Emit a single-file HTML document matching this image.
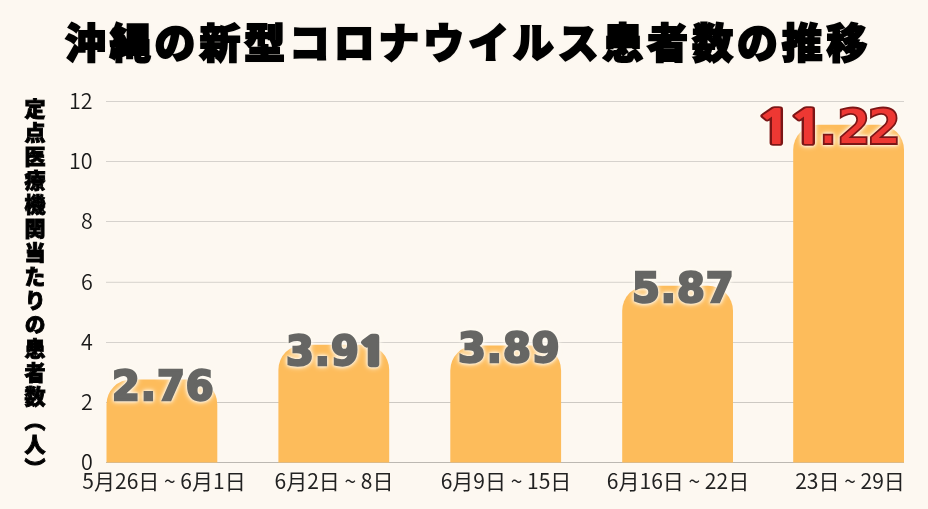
<!DOCTYPE html>
<html lang="ja">
<head>
<meta charset="utf-8">
<style>
html,body{margin:0;padding:0;}
body{width:928px;height:509px;overflow:hidden;background:#fdf8f1;position:relative;font-family:"Liberation Sans","Noto Sans CJK JP",sans-serif;}
.title{will-change:transform;position:absolute;left:64.5px;top:11px;white-space:nowrap;font:900 40.8px/60px "Noto Sans CJK JP",sans-serif;letter-spacing:4px;color:#000;-webkit-text-stroke:1.9px #000;text-shadow:0 0 1.5px rgba(0,0,0,.3),0 0 3px rgba(0,0,0,.15);}
.ylab{will-change:transform;position:absolute;left:21.5px;top:97.5px;writing-mode:vertical-rl;font:900 21px/26px "Noto Sans CJK JP",sans-serif;letter-spacing:2.95px;color:#000;-webkit-text-stroke:.9px #000;white-space:nowrap;}
.tick{will-change:transform;position:absolute;right:835px;font:350 21.5px/22px "Noto Sans CJK JP",sans-serif;color:#1a1a1a;text-align:right;}
.xl{will-change:transform;position:absolute;top:467px;width:200px;text-align:center;font:21px/26px "Noto Sans CJK JP",sans-serif;color:#222;white-space:nowrap;}
.val{will-change:transform;position:absolute;white-space:nowrap;font:bold 40px/50px "DejaVu Sans",sans-serif;letter-spacing:1px;color:#666664;-webkit-text-stroke:2.4px #666664;filter:drop-shadow(0 0 1.5px #fffbf2) drop-shadow(0 0 2.5px #fffbf2);}
svg{position:absolute;left:0;top:0;}
.one{display:inline-block;transform:scaleX(1.35);transform-origin:50% 50%;margin:0 3px;font:800 46.5px/50px "NanumGothic",sans-serif;letter-spacing:0;paint-order:stroke fill;}
.one.r{-webkit-text-stroke:3.6px #7c1616;}
.one.g{font-size:38px;-webkit-text-stroke:4.4px #666664;transform:scaleX(1.2);}
</style>
</head>
<body>
<svg width="928" height="509" viewBox="0 0 928 509">
  <g stroke="#d6d2cd" stroke-width="1">
    <line x1="106" y1="101.5" x2="904" y2="101.5"/>
    <line x1="106" y1="161.5" x2="904" y2="161.5"/>
    <line x1="106" y1="221.5" x2="904" y2="221.5"/>
    <line x1="106" y1="282.3" x2="904" y2="282.3"/>
    <line x1="106" y1="342.5" x2="904" y2="342.5"/>
    <line x1="106" y1="402.5" x2="904" y2="402.5" stroke="#cdc9c3"/>
    <line x1="106" y1="462.5" x2="904" y2="462.5" stroke="#bcb8b2"/>
  </g>
  <g fill="#fdbc5b">
    <path d="M106.5 462.5 V404.4 a25 25 0 0 1 25 -25 H192.3 a25 25 0 0 1 25 25 V462.5 Z"/>
    <path d="M278.4 462.5 V369.8 a25 25 0 0 1 25 -25 H364.2 a25 25 0 0 1 25 25 V462.5 Z"/>
    <path d="M450.3 462.5 V370.4 a25 25 0 0 1 25 -25 H536.1 a25 25 0 0 1 25 25 V462.5 Z"/>
    <path d="M622.2 462.5 V310.8 a25 25 0 0 1 25 -25 H708.0 a25 25 0 0 1 25 25 V462.5 Z"/>
    <path d="M793.2 462.5 V149.8 a25 25 0 0 1 25 -25 H879.0 a25 25 0 0 1 25 25 V462.5 Z"/>
  </g>
</svg>

<div class="title">沖縄の新型コロナウイルス患者数の推移</div>
<div class="ylab">定点医療機関当たりの患者数（人）</div>

<div class="tick" style="top:89px">12</div>
<div class="tick" style="top:149px">10</div>
<div class="tick" style="top:209px">8</div>
<div class="tick" style="top:270px">6</div>
<div class="tick" style="top:330px">4</div>
<div class="tick" style="top:390px">2</div>
<div class="tick" style="top:450px">0</div>

<div class="val" style="left:111.9px;top:361.4px">2.76</div>
<div class="val" style="left:285.5px;top:326.1px">3.9<span class="one g" style="margin:0 0 0 1px">1</span></div>
<div class="val" style="left:457.8px;top:323.3px">3.89</div>
<div class="val" style="left:631.7px;top:263.3px">5.87</div>
<div class="val" style="left:755px;top:103.4px;font-size:49px;letter-spacing:-3.9px;color:#ee3833;-webkit-text-stroke:1.8px #7c1616;"><span class="one r" style="margin:0 0.8px 0 5.7px">1</span><span class="one r" style="margin:0 -2.2px 0 3px">1</span><span style="letter-spacing:-0.6px">.</span>22</div>

<div class="xl" style="left:63.6px">5月26日 ~ 6月1日</div>
<div class="xl" style="left:234.4px">6月2日 ~ 8日</div>
<div class="xl" style="left:406.4px">6月9日 ~ 15日</div>
<div class="xl" style="left:578.4px">6月16日 ~ 22日</div>
<div class="xl" style="left:750.4px">23日 ~ 29日</div>
</body>
</html>
